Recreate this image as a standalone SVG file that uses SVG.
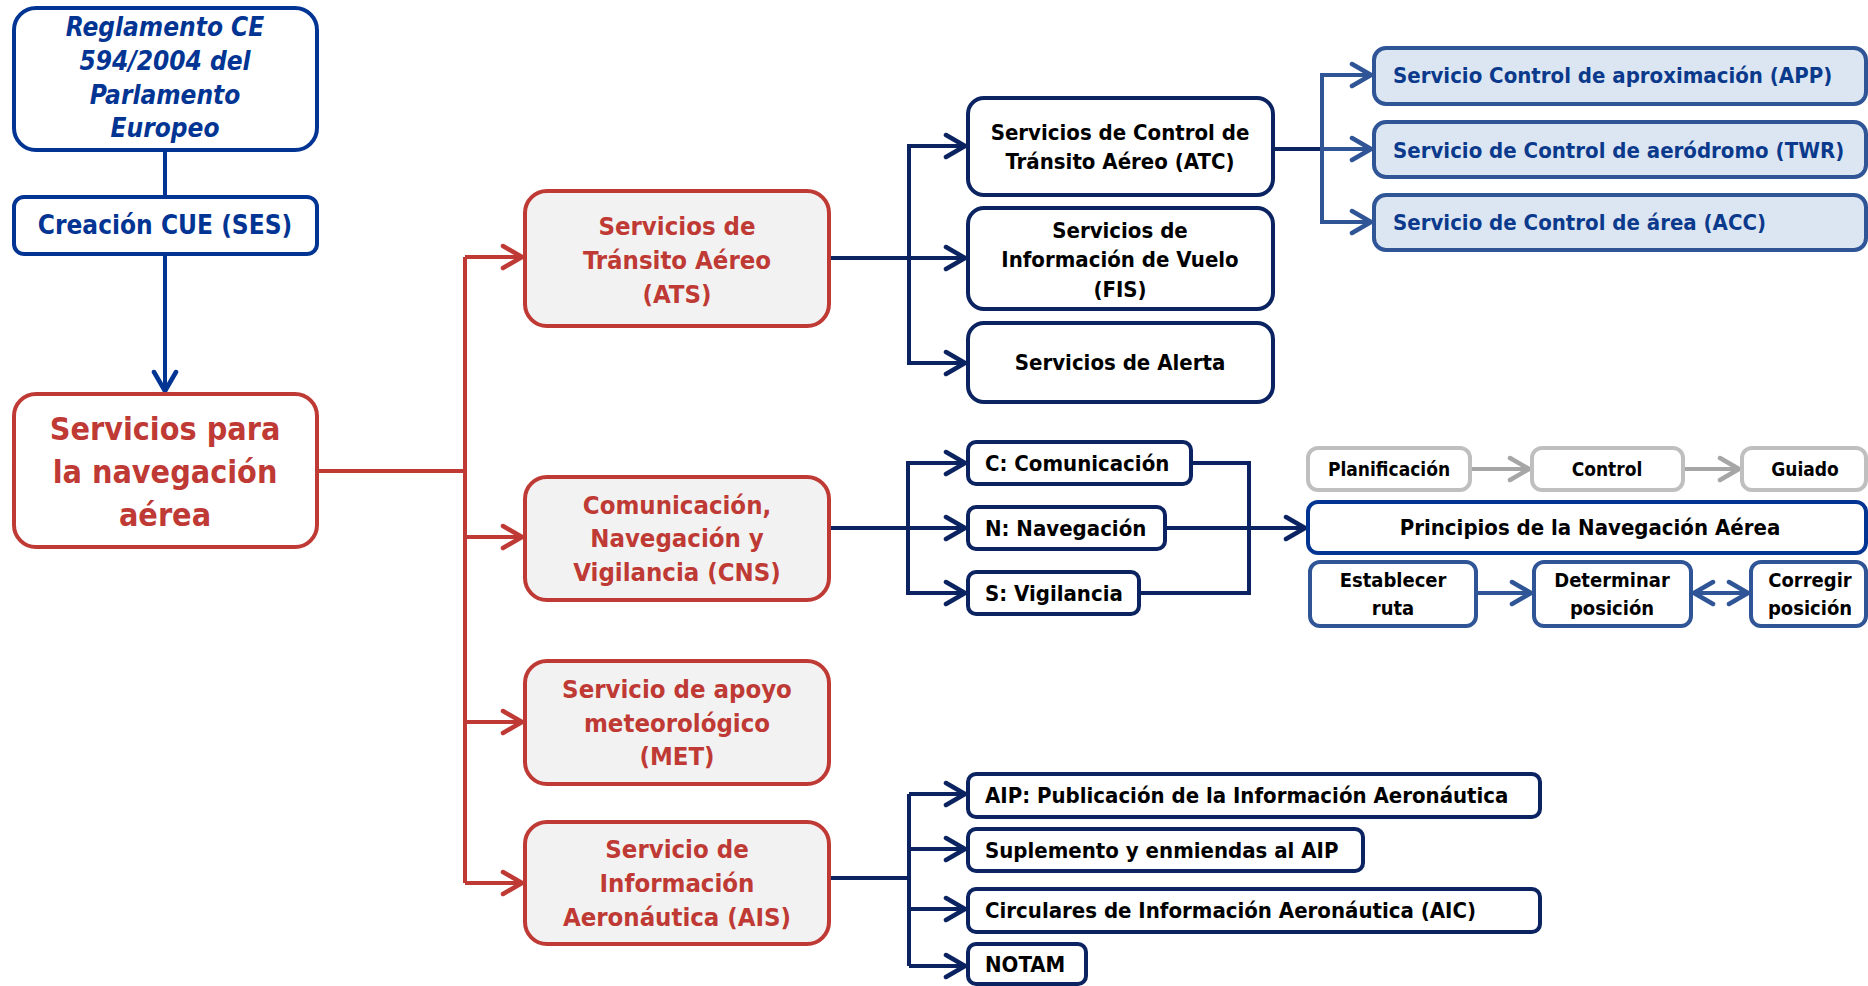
<svg xmlns="http://www.w3.org/2000/svg" width="1868" height="986" viewBox="0 0 1868 986">
<defs>
<style>
text{font-family:"DejaVu Sans Condensed","DejaVu Sans",sans-serif;font-weight:bold;}
.c{text-anchor:middle}
.bx{stroke-width:4}
.b1{fill:#fff;stroke:#023593}
.red{fill:#fff;stroke:#BF3A34}
.redf{fill:#F2F2F2;stroke:#BF3A34}
.nav{fill:#fff;stroke:#0B2461}
.lb{fill:#DCE6F2;stroke:#2F5597}
.gr{fill:#fff;stroke:#BFBFBF}
.mb{fill:#fff;stroke:#2F5597}
.pb{fill:#fff;stroke:#023593}
.tb{fill:#023593}
.tr{fill:#BF3A34;font-size:25.5px}
.tk{fill:#000;font-size:22px}
.tl{fill:#0B3A8C;font-size:22px}
.ln{fill:none;stroke-width:4}
.lN{stroke:#0B2461}
.lR{stroke:#BF3A34}
.lB{stroke:#023593}
.lL{stroke:#2F5597}
.lG{stroke:#A6A6A6}
.mk{fill:none;stroke-width:4.5;stroke-linecap:round;stroke-linejoin:round}
</style>
<marker id="aN" viewBox="-24 -14 28 28" refX="0" refY="0" markerWidth="28" markerHeight="28" markerUnits="userSpaceOnUse" orient="auto-start-reverse"><path class="mk" d="M-19,-11 L0,0 L-19,11" stroke="#0B2461"/></marker>
<marker id="aR" viewBox="-24 -14 28 28" refX="0" refY="0" markerWidth="28" markerHeight="28" markerUnits="userSpaceOnUse" orient="auto-start-reverse"><path class="mk" d="M-19,-11 L0,0 L-19,11" stroke="#BF3A34"/></marker>
<marker id="aB" viewBox="-24 -14 28 28" refX="0" refY="0" markerWidth="28" markerHeight="28" markerUnits="userSpaceOnUse" orient="auto-start-reverse"><path class="mk" d="M-19,-11 L0,0 L-19,11" stroke="#023593"/></marker>
<marker id="aL" viewBox="-24 -14 28 28" refX="0" refY="0" markerWidth="28" markerHeight="28" markerUnits="userSpaceOnUse" orient="auto-start-reverse"><path class="mk" d="M-19,-11 L0,0 L-19,11" stroke="#2F5597"/></marker>
<marker id="aG" viewBox="-24 -14 28 28" refX="0" refY="0" markerWidth="28" markerHeight="28" markerUnits="userSpaceOnUse" orient="auto-start-reverse"><path class="mk" d="M-19,-11 L0,0 L-19,11" stroke="#A6A6A6"/></marker>
</defs>
<rect width="1868" height="986" fill="#fff"/>

<g id="connectors">
<path class="ln lB" d="M165,150 V197"/>
<path class="ln lB" d="M165,254 V391" marker-end="url(#aB)"/>
<path class="ln lR" d="M317,471 H465"/>
<path class="ln lR" d="M465,257 V883"/>
<path class="ln lR" d="M465,257 H522" marker-end="url(#aR)"/>
<path class="ln lR" d="M465,537 H522" marker-end="url(#aR)"/>
<path class="ln lR" d="M465,722 H522" marker-end="url(#aR)"/>
<path class="ln lR" d="M465,883 H522" marker-end="url(#aR)"/>

<path class="ln lN" d="M829,258 H965" marker-end="url(#aN)"/>
<path class="ln lN" d="M909,258 V146 H965" marker-end="url(#aN)"/>
<path class="ln lN" d="M909,258 V363 H965" marker-end="url(#aN)"/>

<path class="ln lN" d="M1273,149 H1322"/>
<path class="ln lL" d="M1322,149 H1371" marker-end="url(#aL)"/>
<path class="ln lL" d="M1322,149 V75 H1371" marker-end="url(#aL)"/>
<path class="ln lL" d="M1322,149 V222 H1371" marker-end="url(#aL)"/>

<path class="ln lN" d="M829,528 H965" marker-end="url(#aN)"/>
<path class="ln lN" d="M908,528 V463 H965" marker-end="url(#aN)"/>
<path class="ln lN" d="M908,528 V593 H965" marker-end="url(#aN)"/>
<path class="ln lN" d="M1191,463 H1249 V593 H1139"/>
<path class="ln lN" d="M1165,528 H1305" marker-end="url(#aN)"/>

<path class="ln lG" d="M1470,469 H1529" marker-end="url(#aG)"/>
<path class="ln lG" d="M1683,469 H1739" marker-end="url(#aG)"/>
<path class="ln lL" d="M1476,593 H1531" marker-end="url(#aL)"/>
<path class="ln lL" d="M1694,593 H1748" marker-start="url(#aL)" marker-end="url(#aL)"/>

<path class="ln lN" d="M829,878 H909"/>
<path class="ln lN" d="M909,794 V966"/>
<path class="ln lN" d="M909,794 H965" marker-end="url(#aN)"/>
<path class="ln lN" d="M909,849 H965" marker-end="url(#aN)"/>
<path class="ln lN" d="M909,909 H965" marker-end="url(#aN)"/>
<path class="ln lN" d="M909,966 H965" marker-end="url(#aN)"/>
</g>

<g id="n-reglamento">
<rect class="bx b1" x="14" y="8" width="303" height="142" rx="22"/>
<text class="c tb" font-size="26" font-style="italic" x="165" y="36">Reglamento CE</text>
<text class="c tb" font-size="26" font-style="italic" x="165" y="70">594/2004 del</text>
<text class="c tb" font-size="26" font-style="italic" x="165" y="104">Parlamento</text>
<text class="c tb" font-size="26" font-style="italic" x="165" y="137">Europeo</text>
</g>
<g id="n-ses">
<rect class="bx b1" x="14" y="197" width="303" height="57" rx="10"/>
<text class="c tb" font-size="26" x="165" y="234">Creación CUE (SES)</text>
</g>
<g id="n-servicios">
<rect class="bx red" x="14" y="394" width="303" height="153" rx="22"/>
<text class="c" fill="#BF3A34" font-size="32" x="165" y="440">Servicios para</text>
<text class="c" fill="#BF3A34" font-size="32" x="165" y="483">la navegación</text>
<text class="c" fill="#BF3A34" font-size="32" x="165" y="526">aérea</text>
</g>

<g id="n-ats">
<rect class="bx redf" x="525" y="191" width="304" height="135" rx="22"/>
<text class="c tr" x="677" y="235">Servicios de</text>
<text class="c tr" x="677" y="269">Tránsito Aéreo</text>
<text class="c tr" x="677" y="303">(ATS)</text>
</g>
<g id="n-cns">
<rect class="bx redf" x="525" y="477" width="304" height="123" rx="22"/>
<text class="c tr" x="677" y="514">Comunicación,</text>
<text class="c tr" x="677" y="547">Navegación y</text>
<text class="c tr" x="677" y="581">Vigilancia (CNS)</text>
</g>
<g id="n-met">
<rect class="bx redf" x="525" y="661" width="304" height="123" rx="22"/>
<text class="c tr" x="677" y="698">Servicio de apoyo</text>
<text class="c tr" x="677" y="732">meteorológico</text>
<text class="c tr" x="677" y="765">(MET)</text>
</g>
<g id="n-ais">
<rect class="bx redf" x="525" y="822" width="304" height="122" rx="22"/>
<text class="c tr" x="677" y="858">Servicio de</text>
<text class="c tr" x="677" y="892">Información</text>
<text class="c tr" x="677" y="926">Aeronáutica (AIS)</text>
</g>

<g id="n-atc">
<rect class="bx nav" x="968" y="98" width="305" height="97" rx="16"/>
<text class="c tk" x="1120" y="140">Servicios de Control de</text>
<text class="c tk" x="1120" y="169">Tránsito Aéreo (ATC)</text>
</g>
<g id="n-fis">
<rect class="bx nav" x="968" y="208" width="305" height="101" rx="16"/>
<text class="c tk" x="1120" y="238">Servicios de</text>
<text class="c tk" x="1120" y="267">Información de Vuelo</text>
<text class="c tk" x="1120" y="297">(FIS)</text>
</g>
<g id="n-alerta">
<rect class="bx nav" x="968" y="323" width="305" height="79" rx="16"/>
<text class="c tk" x="1120" y="370">Servicios de Alerta</text>
</g>

<g id="n-app">
<rect class="bx lb" x="1374" y="48" width="492" height="56" rx="12"/>
<text class="tl" x="1393" y="83">Servicio Control de aproximación (APP)</text>
</g>
<g id="n-twr">
<rect class="bx lb" x="1374" y="122" width="492" height="55" rx="12"/>
<text class="tl" x="1393" y="158">Servicio de Control de aeródromo (TWR)</text>
</g>
<g id="n-acc">
<rect class="bx lb" x="1374" y="195" width="492" height="55" rx="12"/>
<text class="tl" x="1393" y="230">Servicio de Control de área (ACC)</text>
</g>

<g id="n-c">
<rect class="bx nav" x="968" y="442" width="223" height="42" rx="8"/>
<text class="tk" x="985" y="471">C: Comunicación</text>
</g>
<g id="n-n">
<rect class="bx nav" x="968" y="507" width="197" height="42" rx="8"/>
<text class="tk" x="985" y="536">N: Navegación</text>
</g>
<g id="n-s">
<rect class="bx nav" x="968" y="572" width="171" height="42" rx="8"/>
<text class="tk" x="985" y="601">S: Vigilancia</text>
</g>

<g id="n-planificacion">
<rect class="bx gr" x="1308" y="448" width="162" height="42" rx="10"/>
<text class="c" fill="#000" font-size="19" x="1389" y="476">Planificación</text>
</g>
<g id="n-control">
<rect class="bx gr" x="1532" y="448" width="151" height="42" rx="10"/>
<text class="c" fill="#000" font-size="19" x="1607" y="476">Control</text>
</g>
<g id="n-guiado">
<rect class="bx gr" x="1742" y="448" width="124" height="42" rx="10"/>
<text class="c" fill="#000" font-size="19" x="1805" y="476">Guiado</text>
</g>
<g id="n-principios">
<rect class="bx pb" x="1308" y="502" width="558" height="51" rx="10"/>
<text class="c tk" x="1590" y="535">Principios de la Navegación Aérea</text>
</g>
<g id="n-establecer">
<rect class="bx mb" x="1310" y="562" width="166" height="64" rx="10"/>
<text class="c" fill="#000" font-size="20" x="1393" y="587">Establecer</text>
<text class="c" fill="#000" font-size="20" x="1393" y="615">ruta</text>
</g>
<g id="n-determinar">
<rect class="bx mb" x="1534" y="562" width="157" height="64" rx="10"/>
<text class="c" fill="#000" font-size="20" x="1612" y="587">Determinar</text>
<text class="c" fill="#000" font-size="20" x="1612" y="615">posición</text>
</g>
<g id="n-corregir">
<rect class="bx mb" x="1751" y="562" width="115" height="64" rx="10"/>
<text class="c" fill="#000" font-size="20" x="1810" y="587">Corregir</text>
<text class="c" fill="#000" font-size="20" x="1810" y="615">posición</text>
</g>

<g id="n-aip">
<rect class="bx nav" x="968" y="774" width="572" height="43" rx="8"/>
<text class="tk" x="985" y="803">AIP: Publicación de la Información Aeronáutica</text>
</g>
<g id="n-suplemento">
<rect class="bx nav" x="968" y="829" width="395" height="42" rx="8"/>
<text class="tk" x="985" y="858">Suplemento y enmiendas al AIP</text>
</g>
<g id="n-aic">
<rect class="bx nav" x="968" y="889" width="572" height="43" rx="8"/>
<text class="tk" x="985" y="918">Circulares de Información Aeronáutica (AIC)</text>
</g>
<g id="n-notam">
<rect class="bx nav" x="968" y="944" width="118" height="40" rx="8"/>
<text class="tk" x="985" y="972">NOTAM</text>
</g>
</svg>
